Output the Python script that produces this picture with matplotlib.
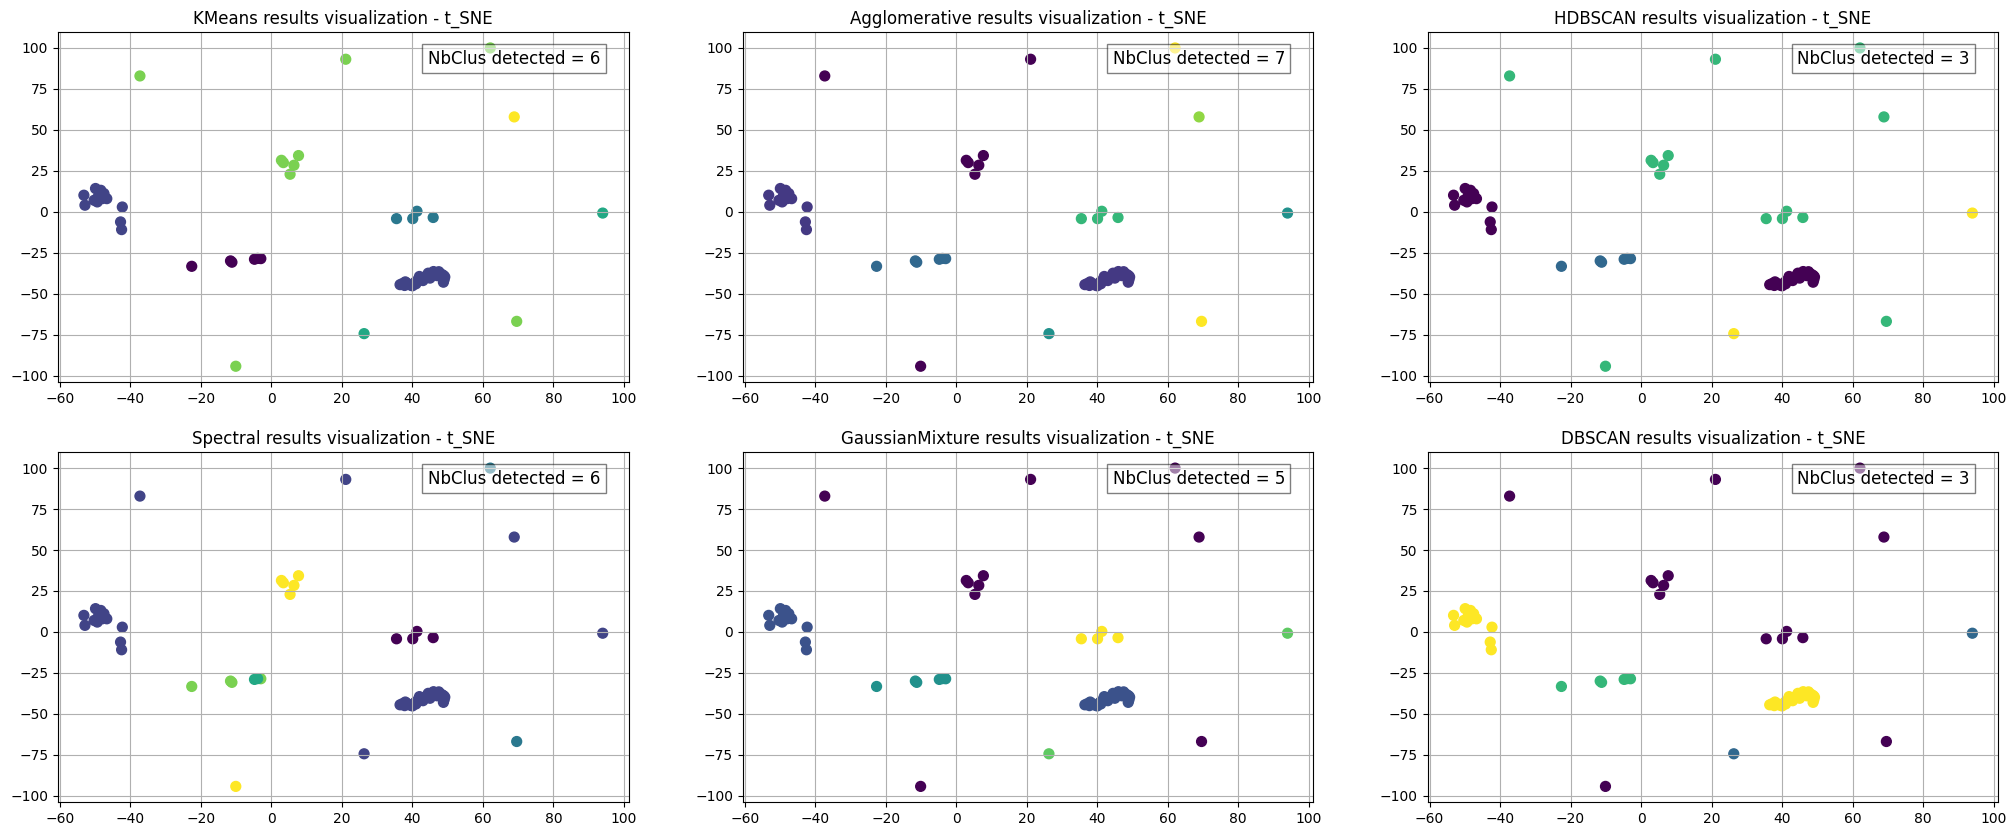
import numpy as np
import matplotlib
matplotlib.use("Agg")
import matplotlib.pyplot as plt

# t-SNE embedding, point groups (same positions in every panel)
left_x = [-53.2, -52.9, -49.9, -48.4, -47.5, -46.7, -49.4, -50.3, -48.0, -49.0, -42.3, -42.8, -42.5]
left_y = [10.1, 4.0, 14.2, 13.1, 11.1, 8.0, 6.0, 7.0, 8.0, 10.0, 2.9, -6.2, -10.9]
big_x = [36.5, 37.2, 37.8, 38.3, 38.9, 39.5, 40.0, 40.3, 40.8, 41.3, 41.8, 42.3, 42.9, 43.4, 43.9, 44.4,
         44.9, 45.4, 45.9, 46.4, 46.9, 47.4, 47.9, 48.4, 48.9, 49.2, 49.0, 48.8, 41.0, 43.0, 45.0, 47.0,
         44.5, 46.0, 47.5, 42.0, 38.0]
big_y = [-44.5, -43.8, -45.0, -43.5, -44.2, -44.8, -45.2, -44.0, -43.0, -42.2, -41.5, -41.0, -40.5, -40.0,
         -39.5, -39.0, -38.6, -38.2, -37.8, -37.5, -37.4, -37.5, -37.8, -38.3, -39.0, -39.8, -41.5, -43.0,
         -44.0, -42.0, -40.5, -39.0, -37.5, -36.5, -36.6, -39.5, -42.8]
top_x = [2.85, 3.4, 5.3, 6.4, 7.7]
top_y = [31.4, 30.0, 22.9, 28.4, 34.3]
mid_x = [35.5, 40.1, 41.3, 45.9]
mid_y = [-4.2, -4.2, 0.3, -3.5]
m11_x = [-11.2, -11.6]
m11_y = [-30.8, -30.0]
m4a_x = [-3.0]
m4a_y = [-28.6]
m4b_x = [-4.8, -3.9]
m4b_y = [-29.0, -28.5]

# single points
single_x = {"m37": -37.3, "p21": 21.1, "m22": -22.6, "m10": -10.1, "p26": 26.3,
            "p69": 68.9, "p70": 69.6, "p62": 62.1, "p94": 94.0}
single_y = {"m37": 82.9, "p21": 93.1, "m22": -33.3, "m10": -94.3, "p26": -74.4,
            "p69": 57.9, "p70": -66.9, "p62": 100.0, "p94": -0.8}

groups = ["left", "big", "m37", "p21", "top", "mid", "m22", "m11", "m4a", "m4b",
          "m10", "p26", "p69", "p70", "p62", "p94"]
group_pts = {"left": (left_x, left_y), "big": (big_x, big_y), "top": (top_x, top_y),
             "mid": (mid_x, mid_y), "m11": (m11_x, m11_y), "m4a": (m4a_x, m4a_y),
             "m4b": (m4b_x, m4b_y)}

# cluster label of each group, per method (same order as groups)
methods = ["KMeans", "Agglomerative", "HDBSCAN", "Spectral", "GaussianMixture", "DBSCAN"]
labels = {
    "KMeans":          [1, 1, 4, 4, 4, 2, 0, 0, 0, 0, 4, 3, 5, 4, 4, 3],
    "Agglomerative":   [1, 1, 0, 0, 0, 4, 2, 2, 2, 2, 0, 3, 5, 6, 6, 3],
    "HDBSCAN":         [-1, -1, 1, 1, 1, 1, 0, 0, 0, 0, 1, 2, 1, 1, 1, 2],
    "Spectral":        [1, 1, 1, 1, 5, 0, 4, 4, 4, 3, 5, 1, 1, 2, 2, 1],
    "GaussianMixture": [1, 1, 0, 0, 0, 4, 2, 2, 2, 2, 0, 3, 0, 0, 0, 3],
    "DBSCAN":          [2, 2, -1, -1, -1, -1, 1, 1, 1, 1, -1, 0, -1, -1, -1, 0],
}
nb_clus = [6, 7, 3, 6, 5, 3]

xs, ys, gid = [], [], []
for i, g in enumerate(groups):
    if g in group_pts:
        gx, gy = group_pts[g]
    else:
        gx, gy = [single_x[g]], [single_y[g]]
    xs += list(gx)
    ys += list(gy)
    gid += [i] * len(gx)
xs = np.array(xs)
ys = np.array(ys)
gid = np.array(gid)

fig, axes = plt.subplots(2, 3, figsize=(20.12, 8.36), dpi=100)
fig.subplots_adjust(left=0.0288, right=0.9932, bottom=0.0403, top=0.9617,
                    wspace=0.2, hspace=0.2)

for ax, name, nb in zip(axes.flat, methods, nb_clus):
    c = np.array(labels[name])[gid]
    ax.scatter(xs, ys, c=c, cmap="viridis", s=50)
    ax.set_title(name + " results visualization - t_SNE")
    ax.grid(True)
    ax.text(0.95, 0.95, "NbClus detected = " + str(nb), transform=ax.transAxes,
            fontsize=12, ha="right", va="top",
            bbox=dict(facecolor="white", alpha=0.5))

fig.savefig("out.png")
